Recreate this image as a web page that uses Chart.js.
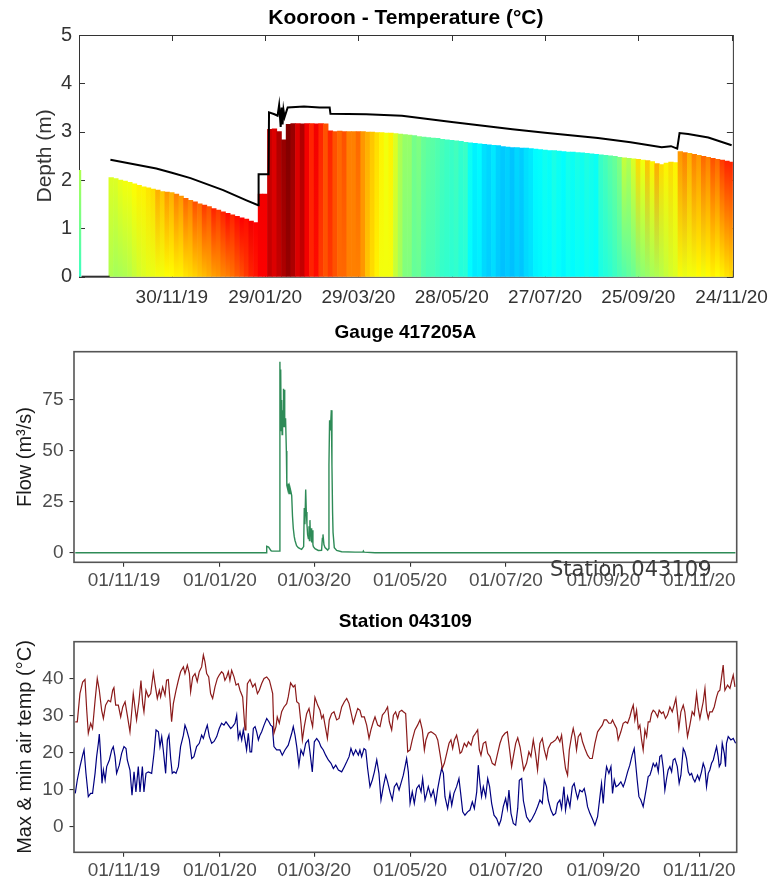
<!DOCTYPE html>
<html>
<head>
<meta charset="utf-8">
<script src="https://cdn.jsdelivr.net/npm/chart.js@4.4.1/dist/chart.umd.min.js"></script>
<style>
  body { margin: 0; background: #fff; }
  #wrap { position: relative; width: 778px; height: 883px; }
  canvas { position: absolute; left: 0; }
  #overlay { position: absolute; left: 550px; top: 559px; font-family: "DejaVu Sans"; font-size: 21px; line-height: 21px; color: #3a3a3a; white-space: nowrap; z-index: 2; }
</style>
</head>
<body>
<div id="wrap">
  <canvas id="depthChart" width="778" height="310" style="top:0px"></canvas>
  <canvas id="flowChart" width="778" height="290" style="top:310px"></canvas>
  <canvas id="airChart" width="778" height="283" style="top:600px"></canvas>
  <div id="overlay">Station 043109</div>
</div>
<script>
// x values are days counted from 01/10/19

// --- Kooroon logger: temperature columns and water level ---
const depthTickDays = [60, 120, 180, 240, 300, 360, 420];
const depthTickLabels = ['30/11/19', '29/01/20', '29/03/20', '28/05/20', '27/07/20', '25/09/20', '24/11/20'];
const depthYTicks = [0, 1, 2, 3, 4, 5];

const colDay = [0, 21, 24, 27, 30, 33, 36, 39, 42, 45, 48, 51, 54, 57, 60, 63, 66, 69, 72, 75, 78, 81, 84, 87, 90, 93, 96, 99, 102, 105, 108, 111, 114, 117, 120,
  123, 126, 129, 132, 135, 138, 141, 144, 147, 150, 153, 156, 159, 162, 165, 168, 171, 174, 177, 180, 183, 186, 189, 192, 195, 198, 201, 204, 207, 210,
  213, 216, 219, 222, 225, 228, 231, 234, 237, 240, 243, 246, 249, 252, 255, 258, 261, 264, 267, 270, 273, 276, 279, 282, 285, 288, 291, 294, 297, 300,
  303, 306, 309, 312, 315, 318, 321, 324, 327, 330, 333, 336, 339, 342, 345, 348, 351, 354, 357, 360, 363, 366, 369, 372, 375, 378, 381, 384, 387, 390,
  393, 396, 399, 402, 405, 408, 411, 414, 417, 420];
const colTop = [2.2, 2.05, 2.03, 2.0, 1.98, 1.95, 1.92, 1.89, 1.86, 1.84, 1.81, 1.79, 1.76, 1.75, 1.74, 1.71, 1.67, 1.62, 1.58, 1.55, 1.51, 1.48, 1.45, 1.41, 1.38, 1.34, 1.31, 1.28, 1.25, 1.22, 1.19, 1.15, 1.12, 1.71, 1.71,
  3.05, 3.06, 3.0, 2.83, 3.15, 3.17, 3.17, 3.16, 3.17, 3.17, 3.16, 3.17, 3.16, 3.02, 3.0, 3.01, 3.0, 3.0, 3.0, 3.0, 3.0, 2.99, 2.99, 2.98, 2.98, 2.97, 2.97, 2.96, 2.95, 2.94,
  2.93, 2.92, 2.9, 2.89, 2.88, 2.87, 2.86, 2.84, 2.83, 2.82, 2.81, 2.8, 2.78, 2.77, 2.76, 2.75, 2.74, 2.73, 2.72, 2.71, 2.69, 2.68, 2.67, 2.67, 2.66, 2.66, 2.65, 2.64, 2.63, 2.62,
  2.61, 2.61, 2.6, 2.59, 2.58, 2.58, 2.57, 2.56, 2.55, 2.54, 2.53, 2.52, 2.51, 2.5, 2.49, 2.47, 2.46, 2.45, 2.44, 2.43, 2.41, 2.4, 2.38, 2.34, 2.32, 2.35, 2.37, 2.36, 2.59, 2.57,
  2.55, 2.53, 2.51, 2.49, 2.47, 2.45, 2.43, 2.41, 2.39, 2.37];
const topTemp = [20, 21, 21, 21.3, 21.5, 21.5, 21.8, 22, 22, 22.3, 22.5, 23.5, 23, 24, 23.5, 24.5, 24, 25, 24.5, 25.5, 25, 26, 25.5, 26.5, 26, 26.5, 27, 26.5, 27, 27.3, 27, 27.5, 27.3, 27.5, 27.5,
  28.5, 28, 29, 29.5, 30, 29.5, 28, 29, 27.5, 26.5, 27.5, 26.5, 25.5, 26.5, 25.5, 25, 25.5, 24.5, 24.5, 25, 24, 23.5, 23, 22.5, 22, 21.5, 22, 21, 20, 19.5,
  19.5, 18.8, 19, 18.5, 18.3, 18.2, 18, 17.8, 17.6, 17.5, 17.7, 17.3, 17.5, 16.5, 16, 16.2, 15.6, 15.4, 15.8, 15.3, 15.1, 15.3, 15, 15.4, 15.2, 15.6, 15.8, 16.2, 16.3, 16.6,
  16.4, 16.8, 16.5, 16.3, 16.7, 16.5, 16.8, 16.6, 16.9, 16.7, 16.5, 17.5, 17.8, 18.2, 18.5, 19, 20.5, 20, 21, 22.5, 21.5, 23, 22, 23.5, 22.5, 22, 22.5, 22, 24, 24.5,
  23.5, 24.5, 24, 25, 24.5, 25.5, 25, 26, 26.5, 26.5];
const botTemp = [17.5, 20, 19.8, 19.9, 20, 20.2, 20.5, 20.8, 21, 21.2, 21.3, 21.5, 21.5, 21.7, 21.8, 22, 22, 22.3, 22.5, 22.7, 23, 23.2, 23.5, 23.8, 24, 24.3, 24.5, 24.8, 25.2, 25.5, 26, 26.5, 26.8, 27.3, 27.3,
  28.5, 28, 28.5, 29, 29.5, 29, 28, 28.5, 27.5, 26.5, 27, 26, 25.5, 26, 25.5, 25, 25, 24.5, 24.5, 24.5, 24, 23, 22.5, 22, 21.5, 21.5, 21.5, 20.5, 19.8, 19,
  19, 18.4, 18.5, 18, 17.8, 17.8, 17.6, 17.4, 17.3, 17.2, 17.3, 17, 17.1, 16.2, 15.8, 15.9, 15.4, 15.2, 15.5, 15.1, 14.9, 15.1, 14.9, 15.2, 15, 15.4, 15.6, 16, 16.1, 16.3,
  16.2, 16.5, 16.3, 16.1, 16.4, 16.2, 16.4, 16.3, 16.5, 16.4, 16.3, 16.8, 17, 17.2, 17.5, 17.8, 18, 18.3, 18.5, 19, 19.3, 19.5, 19.8, 20, 20.2, 20.5, 20.8, 21, 21.5, 21.3,
  21.5, 21.5, 21.8, 21.5, 21.8, 22, 21.8, 22, 22.3, 22.5];

const waterDay = [2, 20, 20.4, 20.5, 50, 60, 72, 93, 108, 115.5, 115.8, 122.2, 122.5, 126, 128, 129, 130, 130.6, 131.2, 131.8, 132.5, 134.5, 145, 155, 161.5, 162,
  185, 208, 240, 279, 300, 334, 355, 375, 381, 385, 386.5, 392, 405, 420];
const waterLevel = [0, 0, null, 2.42, 2.24, 2.15, 2.04, 1.79, 1.58, 1.48, 2.12, 2.12, 3.40, 3.36, 3.33, 3.55, 3.1, 3.5, 3.15, 3.45, 3.3, 3.5, 3.52, 3.5, 3.5, 3.37,
  3.36, 3.33, 3.2, 3.05, 2.98, 2.87, 2.78, 2.68, 2.7, 2.65, 2.97, 2.95, 2.88, 2.72];

// --- Gauge 417205A and Station 043109 ---
const dateTickDays = [31, 92, 152, 213, 274, 336, 397];
const dateTickLabels = ['01/11/19', '01/01/20', '01/03/20', '01/05/20', '01/07/20', '01/09/20', '01/11/20'];

const flowDay = [0, 121.5, 121.8, 123, 124.5, 125, 130, 130.2, 130.5, 130.7, 131, 131.3, 131.6, 131.9, 132.2, 132.5, 132.8, 133.1, 133.4, 133.8, 134.3, 134.6,
  135.2, 135.6, 136, 136.6, 137.2, 137.7, 138.2, 138.7, 139.3, 139.8, 140.8, 141.9, 143, 144, 145.3, 145.7, 146.1, 146.6, 147, 147.4, 147.8, 148.3, 148.7,
  149, 149.3, 149.6, 150, 150.4, 150.8, 151.2, 151.5, 152.5, 154.6, 156.7, 157.2, 157.6, 158.2, 158.9, 160.6, 161.2, 161.4, 161.8, 162.3, 162.9, 163.3,
  163.7, 164, 164.8, 166.3, 169.5, 178, 183, 183.3, 183.7, 190.7, 420];
const flow = [0, 0, 3.2, 2.8, 1.0, 0.8, 0.8, 93.8, 62, 90, 60, 75, 58, 70, 64, 80.5, 62, 80, 63, 66, 50, 33,
  31, 34, 29, 32, 30, 28, 18, 12, 8, 6, 3.5, 2.5, 2, 1.6, 3, 22, 14, 31, 20, 14, 9, 7, 13,
  6, 16, 8, 12, 5, 11, 4, 3, 2, 1.1, 1.2, 7, 9, 4, 2.5, 1.3, 2, 43, 65, 60, 70, 43,
  20, 10, 2.5, 1.1, 0.5, 0.3, 0.3, 0.8, 0.3, 0, 0];
const flowYTicks = [0, 25, 50, 75];

const maxDay = [0, 1.3, 3, 4.7, 6.2, 7.3, 8.3, 9.8, 11, 12.6, 14, 15.3, 16.8, 17.9, 19.3, 21, 22.5, 23.8, 24.6, 25.7, 27.4, 28.9, 30.2, 31.7, 33.1, 34.8,
  36.1, 36.9, 38.2, 39, 40.5, 41.8, 42.9, 43.7, 45, 46.5, 48, 49.7, 50.7, 52.2, 53.5, 54.3, 55.6, 57.1, 58.1, 59.2, 60.3, 61.3, 62.4, 64.1, 65.6, 67,
  68.8, 69.8, 71.3, 72.6, 73.4, 74.7, 76.2, 77.6, 78.9, 80.4, 81.5, 82.5, 83.6, 84.9, 86.1, 87.4, 88.9, 90.4, 91.6, 93.1, 94.2, 95.2, 96.3, 97.4, 98.4,
  99.5, 101, 102.3, 103.7, 104.8, 106.5, 108, 108.6, 109.5, 111.2, 112.9, 114.4, 115.9, 117.1, 118.6, 120.1, 121.8, 123.5, 124.3, 125.6, 126.4, 127.7,
  128.5, 129.8, 131.3, 132.8, 134.5, 135.5, 137, 138.7, 139.8, 140.9, 142.3, 143.6, 144.5, 145.7, 147.2, 148.7, 150, 151, 152.5, 154.2, 155.7, 156.8,
  157.8, 158.9, 160.4, 161.6, 163.1, 164.6, 166.3, 167.8, 169.5, 171.2, 172.7, 174.2, 175.8, 176.9, 178.4, 179.7, 181.1, 182.2, 183.9, 185.4, 186.9,
  188.1, 189.6, 190.7, 192.4, 193.9, 195.4, 197.1, 198.7, 199.8, 201.3, 202.4, 203.8, 205.1, 206.2, 207.7, 208.7, 210.2, 211.5, 213, 214.4, 216.1,
  217.8, 219.3, 220.8, 222.1, 223.1, 224.6, 226.3, 227.8, 229.3, 230.6, 232, 233.5, 234.8, 236.3, 237.8, 239, 240.1, 241.2, 242.6, 243.7, 244.8, 245.8,
  247.5, 249, 250.1, 251.8, 253.2, 254.7, 256, 257.1, 258.1, 259.6, 261.1, 262.4, 263.9, 265.3, 267, 268.7, 270.2, 271.7, 273.4, 274.9, 276.6, 277.6,
  278.7, 280.2, 281.5, 283, 284, 285.3, 287.1, 288.6, 289.9, 291.4, 292.8, 294.1, 295.6, 297.1, 298.4, 299.8, 300.9, 302.6, 304.1, 305.6, 306.8, 308.3,
  309.4, 310.4, 311.9, 313.2, 314.3, 315.7, 316.8, 317.9, 318.9, 320, 321.5, 322.7, 324.2, 325.9, 327.4, 328.9, 330.6, 332.3, 333.8, 335.3, 336.5, 338,
  339.5, 340.8, 341.8, 343.3, 344.4, 345.4, 347.1, 348.6, 350.1, 351.4, 352.8, 353.9, 355, 356, 357.1, 358.2, 359.2, 360.3, 361.3, 362.4, 363.5, 364.5,
  365.6, 366.6, 367.7, 368.8, 370.5, 371.5, 373, 374.1, 375.5, 376.8, 378.3, 379.8, 381, 382.1, 383.2, 384, 385.3, 386.8, 387.8, 389.5, 391, 392.5,
  393.8, 395.3, 396.3, 397.4, 398.4, 399.5, 400.6, 401.6, 402.7, 403.7, 405.2, 406.5, 408, 409, 410.1, 411.2, 412.2, 413.3, 415, 416.5, 417.5, 418.6, 419.7];
const maxTemp = [28.3, 28.3, 36, 39, 39.7, 31.4, 25.2, 27.9, 26.5, 34, 40, 36.8, 31.4, 29.2, 32.8, 34.1, 33.7, 36.8, 37.5, 32.8, 32.8, 29.6, 32.3, 33.7, 30.1, 25.6,
  31.9, 35.9, 31.4, 28.8, 33.7, 39.4, 33.2, 31, 36.8, 35, 35.9, 41.6, 38.6, 34.6, 36.8, 35, 37.7, 35.5, 39.5, 39.7, 34.1, 28.3, 33.2, 36.8, 39.5, 41.8,
  43.1, 41.3, 43.6, 41.3, 36.4, 40.4, 41.3, 39.1, 41.8, 43.1, 46.3, 44.5, 41.3, 40.4, 35.9, 34.6, 37.7, 40, 40.9, 41.8, 41.3, 39.5, 40.4, 41.8, 39.5,
  42.2, 40.4, 38.2, 38.6, 36.8, 35, 26.1, 28.8, 38.6, 39.7, 37.7, 38.6, 35.9, 36.8, 38.6, 40, 40.4, 39.5, 38.2, 35.9, 25.2, 27,
  29.6, 27.9, 31, 32.3, 33.2, 35, 38.8, 37.7, 38.2, 33.7, 33.2, 27.9, 23.4, 27, 30.5, 31.9, 28.8, 27, 34.9, 32.8, 31.4, 29.2,
  30.1, 27.4, 23.8, 28.8, 30.5, 31, 28.8, 29.2, 32.3, 33.7, 34.6, 33.2, 30.1, 27.9, 30.1, 31.9, 31.4, 29.6, 29.6, 27.4, 23.8,
  26.1, 28.3, 29.6, 27.4, 27, 30.1, 31, 32.3, 28.3, 26.1, 30.1, 31, 29.2, 31, 31.4, 31, 30.5, 20.2, 20.7, 23.4, 26.1,
  27.4, 28.8, 26.1, 20.7, 23.4, 25.2, 25.6, 25.2, 24.7, 23.4, 19.8, 15.7, 17.1, 19.8, 22.5, 23.4, 21.1, 23.4, 24.7, 22.5, 19.8, 20.2,
  22.5, 21.6, 22.9, 22, 24.3, 25.2, 26.1, 20.7, 19.3, 22.5, 22.9, 19.8, 18.9, 17.1, 16.6, 19.8, 22.5, 24.3, 25.2, 25.6, 19.8, 16.2,
  18.9, 22.5, 24, 21.5, 18.8, 15.3, 17.1, 20.2, 18.9, 23.4, 19.8, 15.3, 22.5, 23.8, 20.7, 18.4, 21.1, 22.5, 22.9, 23.4, 24.3, 22.9,
  24.7, 20.7, 15.7, 13.9, 20.7, 24.3, 26.5, 24.3, 20.7, 24.3, 25.2, 22.9, 21.1, 19.3, 18.4, 18.4, 22.5, 25.6, 26.5, 27.4, 28.8, 28.8,
  27.9, 27.9, 28.8, 27.4, 26.5, 23.4, 25.6, 27.9, 28.3, 27.9, 29.6, 31.4, 32.8, 28.8, 31.4, 26.5, 27.4, 23.4, 20.7, 26.1, 24.3, 28.3,
  28.3, 30.5, 31.4, 31, 29.6, 31.4, 30.5, 31, 29.2, 30.1, 32.3, 31, 32.8, 34.6, 30.1, 26.5, 31, 32.8, 31, 24.3, 27.4, 31,
  30.1, 35.9, 31.9, 29.2, 31.4, 33.7, 37.3, 31.4, 29.2, 31, 31, 32.3, 35, 36.4, 36.8, 40.4, 43.6, 36.8, 38.2, 37.3, 39.1, 40.9, 37.7];

const minDay = [0, 1.3, 3, 4.7, 5.6, 6.8, 8.3, 9.8, 11, 12.6, 13.6, 14.7, 15.3, 16.2, 17, 17.9, 19, 20, 21.7, 23.2, 24.2, 25.3, 26.3, 28, 29.5, 31, 32.3,
  33.1, 34.8, 36.1, 37.4, 38.6, 40.1, 41.2, 42.7, 43.7, 45, 46.5, 48.6, 50.1, 51.4, 52.9, 53.9, 55, 56, 57.5, 58.6, 59.6, 60.7, 61.7, 62.8, 64.1, 65.6,
  67, 68.8, 69.8, 70.9, 72.6, 74.1, 75.5, 77.2, 78.9, 80.4, 81.5, 83, 84, 85.3, 86.8, 88.3, 90, 91.6, 93.1, 94.6, 95.9, 97.4, 98.9, 100.1, 101.6, 102.7,
  103.7, 104.8, 105.9, 106.9, 108, 109, 110.1, 111.2, 112.2, 113.3, 114.4, 115.4, 116.5, 117.5, 118.6, 120.1, 121.8, 123.2, 124.3, 125.4, 126.4, 128.1,
  130.2, 131.7, 133.4, 135.5, 137.7, 138.7, 139.8, 140.9, 142.3, 143.6, 145.1, 146.6, 148.3, 149.3, 150.8, 152.1, 153.6, 155.1, 156.3, 157.8, 159.3,
  161, 162.7, 164.2, 165.7, 167.4, 169.5, 171.2, 172.7, 174.2, 175.4, 176.9, 178.4, 180.1, 181.1, 182.2, 183.7, 184.8, 186, 187.5, 189, 190.3, 191.8,
  193.2, 194.5, 196, 197.5, 198.7, 200.2, 201.7, 203, 204.5, 206, 207.2, 208.7, 209.8, 210.8, 211.9, 213, 214.4, 215.7, 217.2, 218.7, 220, 221, 222.5,
  223.6, 224.6, 226.3, 227.8, 229.3, 230.6, 232, 233.1, 234.2, 235.2, 236.9, 238.4, 239.5, 240.9, 242.6, 244.1, 245.2, 246.5, 247.9, 249.6, 251.1,
  252.6, 253.9, 255.4, 256.4, 257.5, 258.5, 259.6, 261.1, 262.4, 263.6, 264.9, 266.4, 268.1, 269.6, 270.8, 272.3, 273.8, 274.9, 275.9, 277.2, 278.7,
  280.2, 281.5, 282.5, 284, 285.1, 287.1, 289.2, 290.7, 292.4, 294.1, 295.6, 297.1, 298.4, 299.8, 300.9, 302.6, 304.1, 305.6, 306.8, 308.3, 309.4,
  310.9, 311.9, 313.2, 314.7, 316.2, 317.4, 318.5, 319.6, 321, 322.5, 323.8, 324.9, 325.9, 327.4, 328.9, 330.6, 332.3, 333.8, 334.8, 335.9, 337, 338,
  339.5, 340.8, 341.8, 342.9, 344, 345.4, 347.1, 348.6, 349.7, 351.4, 352.8, 354.3, 355.6, 356.5, 357.5, 358.6, 359.8, 361.3, 362.4, 363.5, 364.5,
  365.6, 366.6, 367.7, 368.8, 369.8, 370.9, 371.9, 373, 374.1, 375.1, 376.2, 377.2, 378.3, 379.4, 380.4, 381.5, 383, 384.2, 385.3, 386.8, 387.8, 388.9,
  390, 391, 392.1, 393.1, 394.2, 395.9, 397, 398.4, 399.5, 400.6, 401.6, 402.7, 403.7, 404.8, 405.9, 406.9, 408, 409, 409.7, 410.7, 411.6, 412.9,
  413.7, 414.3, 415.4, 417.1, 418.6, 420.1];
const minTemp = [9, 12.6, 16.2, 19.3, 20.7, 14.4, 8.1, 9, 9, 14.4, 18.9, 22.5, 25, 18.9, 11.7, 15.3, 12.6, 16.2, 18, 20.7, 21.6, 18.9, 14.4, 16.6, 19.8, 21.6, 21.1,
  18, 15.3, 8.5, 14.8, 9.4, 16.2, 9.4, 16.2, 9.4, 14.4, 14.8, 14.4, 19.8, 26.1, 25.6, 21.6, 24.3, 20.7, 14.4, 23.4, 24.7, 18.4, 14.4, 14.8, 14.4, 16.2,
  21.6, 24.7, 27.4, 26.1, 23.4, 18.4, 18.9, 21.6, 22.5, 24.7, 23.8, 26.1, 27.4, 24.3, 22.5, 23, 24.3, 26.5, 27.9, 27.4, 28.3, 27.4, 26.5, 27, 27.9, 30.1,
  23.8, 25.6, 23.4, 26.1, 23.4, 20.7, 25.2, 20.2, 20.2, 26.5, 27, 25.6, 23.4, 24.7, 25.6, 27.4, 29.2, 28.3, 27.4, 27, 21.6, 20.7,
  20.7, 19.3, 20.7, 22, 25.2, 27, 24.7, 21.6, 16.6, 20.7, 19.3, 22.5, 23.4, 20.2, 14.8, 22.9, 23.8, 22.9, 21.6, 20.7, 19.3,
  18, 17.1, 15.7, 16.6, 15.3, 14.8, 16.2, 17.5, 18.9, 21.1, 19.3, 20.7, 19.3, 20.7, 18.9, 21.1, 20.7, 15.7, 10.8, 12.6, 14.8, 18,
  14.4, 7.2, 10.8, 13.9, 12.1, 9.4, 7.2, 10.8, 11.7, 9.9, 11.7, 13.9, 16.2, 18.4, 14.8, 6.3, 9.4, 6.3, 10.3, 11.2, 9.4, 13, 7.2,
  9, 10.8, 8.1, 9.9, 6.3, 10.3, 13.5, 15.7, 14.4, 8.1, 4.9, 9, 5.8, 9, 10.8, 13, 9, 4, 3.1, 4, 4.5,
  6.7, 4.9, 9.4, 16.6, 11.7, 8.1, 10.8, 8.1, 13, 10.8, 6.3, 3.1, 2.2, 0.4, 1.8, 5.4, 7.6, 4.9, 9.9, 3.6, 0.9,
  0.4, 5, 12.5, 13, 7, 2.7, 1.3, 2.2, 3.6, 5.4, 7.2, 6.3, 12.6, 10.8, 7.2, 4.5, 3.1, 3.6, 6.3, 7.2, 4.9,
  10.8, 4.5, 8.1, 5.4, 10.8, 11.7, 9.4, 7.6, 9.9, 9.4, 10.3, 8.1, 5.4, 3.6, 2.2, 0.4, 2.7, 8.1, 11.7, 6.3, 12.6, 16.2,
  14.4, 16.2, 9, 12.6, 10.8, 11.2, 12.1, 10.8, 12.1, 14.8, 16.6, 19.3, 21.1, 17.1, 12.6, 8.1, 7.2, 5.4, 8.1, 10.8, 13.5,
  13.9, 15.3, 17.1, 16.2, 17.1, 14.8, 18.9, 19.3, 15.7, 9.9, 13, 15.3, 16.2, 14.8, 18, 18.4, 16.2, 11.7, 13.9, 21.1, 20.2, 18.4,
  14.8, 13.9, 14.4, 13, 12.1, 13.9, 12.6, 14.8, 17.1, 15.7, 10.8, 14.4, 15.3, 17.1, 18, 19.8, 21.6, 18.9, 16.2, 17.1, 22.5, 19.8,
  16.2, 22.5, 24.3, 23.4, 23.8, 22.5];
const airYTicks = [0, 10, 20, 30, 40];

// colour scale for the temperature columns (jet, 8 to 30 °C)
const jetStops = [[0, [0, 0, 143]], [0.125, [0, 0, 255]], [0.375, [0, 255, 255]], [0.625, [255, 255, 0]], [0.875, [255, 0, 0]], [1, [128, 0, 0]]];
function jet(t) {
  let p = Math.max(0, Math.min(1, (t - 8) / 22));
  for (let i = 1; i < jetStops.length; i++) {
    if (p <= jetStops[i][0]) {
      const [p0, c0] = jetStops[i - 1], [p1, c1] = jetStops[i];
      const f = (p - p0) / (p1 - p0);
      return 'rgb(' + c0.map((c, k) => Math.round(c + (c1[k] - c) * f)).join(',') + ')';
    }
  }
  return 'rgb(128,0,0)';
}

const sans = 'Liberation Sans';

// MATLAB style box with inward ticks, drawn under the columns
const matlabBox = {
  id: 'matlabBox',
  beforeDatasetsDraw(chart) {
    const {ctx, chartArea: a, scales: {x, y}} = chart;
    ctx.save();
    ctx.strokeStyle = '#333';
    ctx.lineWidth = 1;
    ctx.strokeRect(a.left + 0.5, a.top + 0.5, a.right - a.left, a.bottom - a.top);
    ctx.beginPath();
    x.ticks.forEach(t => {
      const px = Math.round(x.getPixelForValue(t.value)) + 0.5;
      ctx.moveTo(px, a.top); ctx.lineTo(px, a.top + 6);
      ctx.moveTo(px, a.bottom); ctx.lineTo(px, a.bottom - 6);
    });
    y.ticks.forEach(t => {
      const py = Math.round(y.getPixelForValue(t.value)) + 0.5;
      ctx.moveTo(a.left, py); ctx.lineTo(a.left + 6, py);
      ctx.moveTo(a.right, py); ctx.lineTo(a.right - 6, py);
    });
    ctx.stroke();
    ctx.restore();
  }
};

// ggplot style panel border, drawn on top
const panelBorder = {
  id: 'panelBorder',
  afterDatasetsDraw(chart) {
    const {ctx, chartArea: a} = chart;
    ctx.save();
    ctx.strokeStyle = '#555';
    ctx.lineWidth = 1.6;
    ctx.strokeRect(a.left, a.top, a.right - a.left, a.bottom - a.top);
    ctx.restore();
  }
};

new Chart(document.getElementById('depthChart'), {
  type: 'bar',
  data: {
    datasets: [
      {
        type: 'line',
        data: waterDay.map((d, i) => ({x: d, y: waterLevel[i]})),
        borderColor: '#000',
        borderWidth: 2,
        pointRadius: 0,
        spanGaps: false,
        order: 0
      },
      {
        type: 'bar',
        data: colDay.map((d, i) => ({x: d, y: colTop[i]})),
        backgroundColor: function (c) {
          const i = c.dataIndex, y = c.chart.scales.y;
          if (i === undefined || !y) return jet(20);
          const y0 = y.getPixelForValue(0), y1 = y.getPixelForValue(colTop[i]);
          if (!isFinite(y0) || !isFinite(y1) || y0 === y1) return jet(botTemp[i]);
          const g = c.chart.ctx.createLinearGradient(0, y0, 0, y1);
          g.addColorStop(0, jet(botTemp[i]));
          g.addColorStop(1, jet(topTemp[i]));
          return g;
        },
        borderWidth: 0,
        barPercentage: 1,
        categoryPercentage: 1,
        order: 1
      }
    ]
  },
  options: {
    responsive: false,
    animation: false,
    devicePixelRatio: 1,
    layout: {padding: {left: 0, right: 40.3, top: 0, bottom: 0}},
    plugins: {
      legend: {display: false},
      tooltip: {enabled: false},
      title: {
        display: true, text: 'Kooroon - Temperature (°C)', fullSize: false, color: '#000',
        font: {family: sans, size: 21, weight: 'bold'}, padding: {top: 6, bottom: 3.8}
      }
    },
    scales: {
      x: {
        type: 'linear', min: 0.3, max: 420.8, offset: false,
        grid: {display: false, drawTicks: false, offset: false},
        border: {display: false},
        afterBuildTicks: s => { s.ticks = depthTickDays.map(v => ({value: v})); },
        afterFit: s => { s.height = 33.3; },
        ticks: {
          autoSkip: false, maxRotation: 0, padding: 10, color: '#333',
          font: {family: sans, size: 19},
          callback: (v, i) => depthTickLabels[i]
        }
      },
      y: {
        min: 0, max: 5,
        grid: {display: false, drawTicks: false},
        border: {display: false},
        afterBuildTicks: s => { s.ticks = depthYTicks.map(v => ({value: v})); },
        afterFit: s => { s.width = 79; },
        ticks: {padding: 7, color: '#333', font: {family: sans, size: 20}},
        title: {display: true, text: 'Depth (m)', color: '#333', font: {family: sans, size: 21}, padding: {top: 32.4, bottom: 0}}
      }
    }
  },
  plugins: [matlabBox]
});

function ggOptions(title, titlePad, yTitle, yMin, yMax, yTicks, xHeight, xPad) {
  return {
    responsive: false,
    animation: false,
    devicePixelRatio: 1,
    layout: {padding: {left: 0, right: 41.3, top: 0, bottom: 0}},
    plugins: {
      legend: {display: false},
      tooltip: {enabled: false},
      title: {display: true, text: title, fullSize: false, color: '#000', font: {family: sans, size: 19, weight: 'bold'}, padding: titlePad}
    },
    scales: {
      x: {
        type: 'linear', min: -0.8, max: 420.8,
        grid: {display: true, drawOnChartArea: false, drawTicks: true, tickLength: 4.5, color: '#333', lineWidth: 1.1},
        border: {display: false},
        afterBuildTicks: s => { s.ticks = dateTickDays.map(v => ({value: v})); },
        afterFit: s => { s.height = xHeight; },
        ticks: {
          autoSkip: false, maxRotation: 0, padding: xPad, color: '#4d4d4d',
          font: {family: sans, size: 19},
          callback: (v, i) => dateTickLabels[i]
        }
      },
      y: {
        min: yMin, max: yMax,
        grid: {display: true, drawOnChartArea: false, drawTicks: true, tickLength: 4.5, color: '#333', lineWidth: 1.1},
        border: {display: false},
        afterBuildTicks: s => { s.ticks = yTicks.map(v => ({value: v})); },
        afterFit: s => { s.width = 74; },
        ticks: {padding: 6, color: '#4d4d4d', font: {family: sans, size: 19}},
        title: {display: true, text: yTitle, color: '#1a1a1a', font: {family: sans, size: 20}, padding: {top: 13, bottom: 0}}
      }
    }
  };
}

new Chart(document.getElementById('flowChart'), {
  type: 'line',
  data: {
    datasets: [{
      data: flowDay.map((d, i) => ({x: d, y: flow[i]})),
      borderColor: '#2e8b57',
      borderWidth: 1.4,
      pointRadius: 0,
      tension: 0
    }]
  },
  options: ggOptions('Gauge 417205A', {top: 11.1, bottom: 7.8}, 'Flow (m³/s)', -4.7, 98.7, flowYTicks, 37.7, 2.8),
  plugins: [panelBorder]
});

new Chart(document.getElementById('airChart'), {
  type: 'line',
  data: {
    datasets: [
      {
        data: maxDay.map((d, i) => ({x: d, y: maxTemp[i]})),
        borderColor: '#8b1a1a',
        borderWidth: 1.2,
        pointRadius: 0,
        tension: 0
      },
      {
        data: minDay.map((d, i) => ({x: d, y: minTemp[i]})),
        borderColor: '#000080',
        borderWidth: 1.2,
        pointRadius: 0,
        tension: 0
      }
    ]
  },
  options: ggOptions('Station 043109', {top: 10.3, bottom: 8.6}, 'Max & min air temp (°C)', -6.9, 49.9, airYTicks, 30.7, 2.3),
  plugins: [panelBorder]
});
</script>
</body>
</html>
